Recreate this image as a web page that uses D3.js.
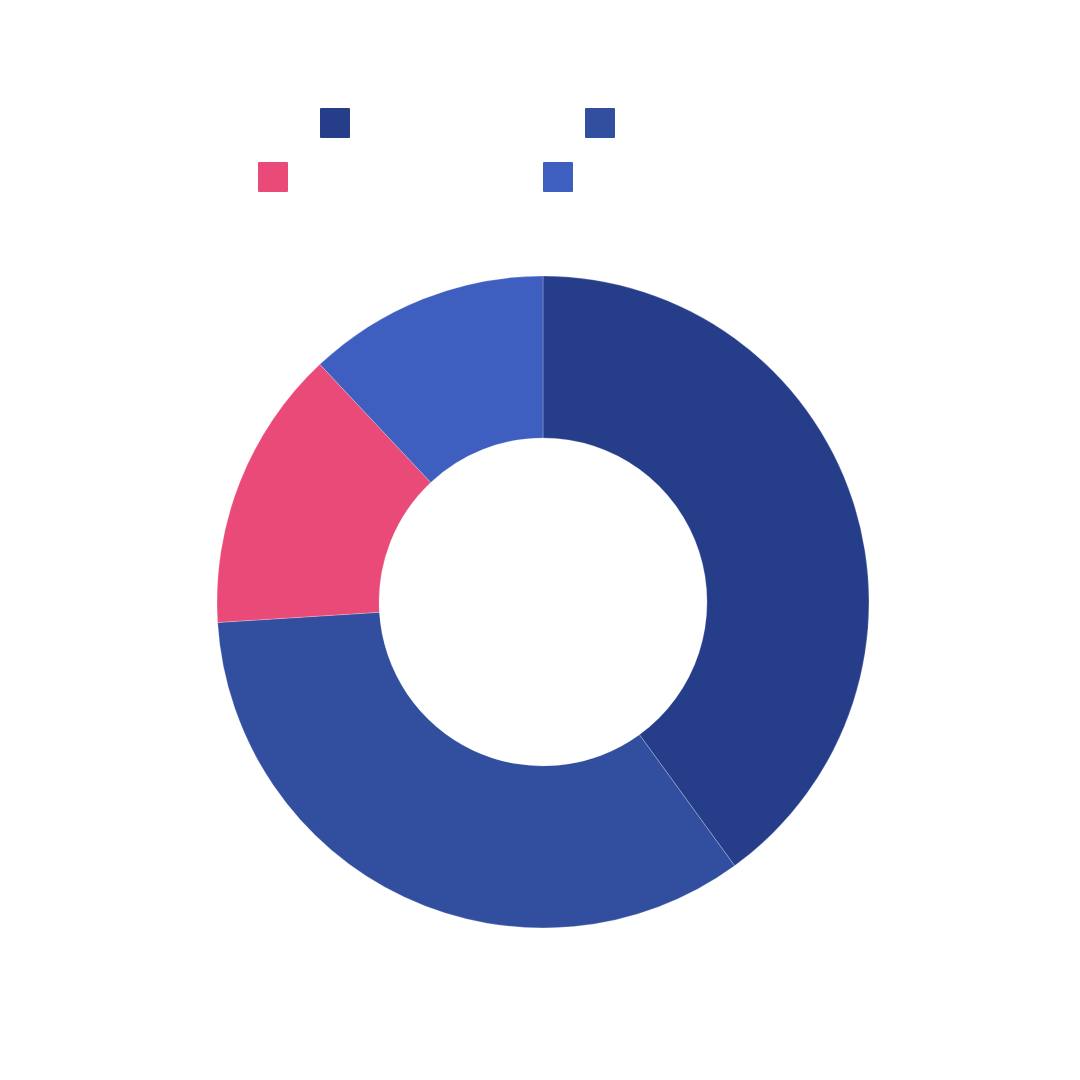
<!DOCTYPE html>
<html>
<head>
<meta charset="utf-8">
<script src="https://cdn.jsdelivr.net/npm/d3@7"></script>
<style>
  html, body { margin: 0; padding: 0; background: #fff; }
</style>
</head>
<body>
<div id="chart"></div>
<script>
// data (shares, clockwise from 12 o'clock)
const categories = ["A", "B", "C", "D"];
const values = [40, 34, 14, 12];
const colors = ["#263d8a", "#324e9f", "#ea4a78", "#3e5ec0"];

const width = 1080;
const height = 1080;
const cx = 543;
const cy = 602;
const outerR = 326;
const innerR = 164;

const svg = d3
  .select("#chart")
  .append("svg")
  .attr("width", width)
  .attr("height", height);

const color = d3.scaleOrdinal().domain(categories).range(colors);

const pie = d3
  .pie()
  .sort(null)
  .value((d) => d.value);

const arc = d3.arc().innerRadius(innerR).outerRadius(outerR);

const data = categories.map((c, i) => ({ name: c, value: values[i] }));

svg
  .append("g")
  .attr("transform", `translate(${cx},${cy})`)
  .selectAll("path")
  .data(pie(data))
  .join("path")
  .attr("d", arc)
  .attr("fill", (d) => color(d.data.name))
  .attr("stroke", "#ffffff")
  .attr("stroke-opacity", 0.4)
  .attr("stroke-width", 0.6);

// legend: two rows, two items each, centred (labels are not drawn in the reference)
const legendRows = [
  { y: 108, items: [0, 1], widths: [265, 175] },
  { y: 162, items: [2, 3], widths: [285, 279] },
];

legendRows.forEach((row) => {
  const total = d3.sum(row.widths);
  let x = cx - 3 - total / 2;
  row.items.forEach((idx, j) => {
    svg
      .append("rect")
      .attr("x", x)
      .attr("y", row.y)
      .attr("width", 30)
      .attr("height", 30)
      .attr("rx", 1)
      .attr("fill", color(categories[idx]));
    x += row.widths[j];
  });
});
</script>
</body>
</html>
